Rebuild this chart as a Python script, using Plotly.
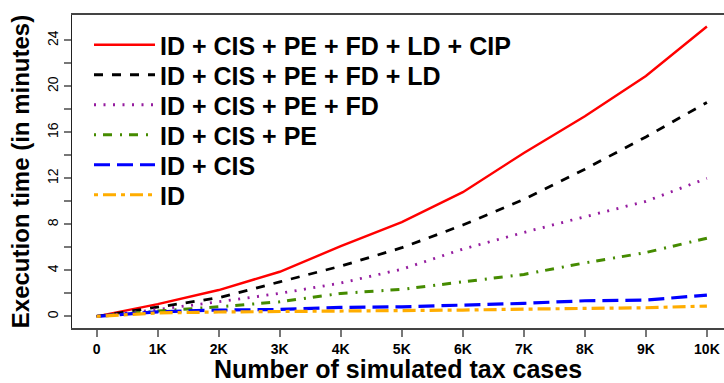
import plotly.graph_objects as go

x_cases = [0, 1000, 2000, 3000, 4000, 5000, 6000, 7000, 8000, 9000, 10000]
x_tick_labels = ["0", "1K", "2K", "3K", "4K", "5K", "6K", "7K", "8K", "9K", "10K"]
y_tick_vals = [0, 2, 4, 6, 8, 10, 12, 14, 16, 18, 20, 22, 24]
y_tick_text = ["0", "", "4", "", "8", "", "12", "", "16", "", "20", "", "24"]

names = [
    "ID + CIS + PE + FD + LD + CIP",
    "ID + CIS + PE + FD + LD",
    "ID + CIS + PE + FD",
    "ID + CIS + PE",
    "ID + CIS",
    "ID",
]
t_cip = [0, 1.07, 2.29, 3.88, 6.1, 8.2, 10.8, 14.2, 17.4, 20.9, 25.2]
t_ld = [0, 0.84, 1.62, 3.0, 4.37, 5.97, 7.94, 10.17, 12.8, 15.6, 18.6]
t_fd = [0, 0.6, 1.27, 2.0, 2.9, 4.1, 5.85, 7.3, 8.66, 10.0, 12.0]
t_pe = [0, 0.46, 0.83, 1.27, 2.0, 2.35, 3.0, 3.65, 4.65, 5.55, 6.8]
t_cis = [0, 0.4, 0.55, 0.6, 0.78, 0.83, 0.98, 1.13, 1.36, 1.42, 1.85]
t_id = [0, 0.3, 0.38, 0.42, 0.46, 0.48, 0.55, 0.63, 0.7, 0.75, 0.9]

series = [t_cip, t_ld, t_fd, t_pe, t_cis, t_id]
colors = ["#ff0000", "#000000", "#951c9f", "#458b00", "#0000ff", "#ffad00"]
dashes = ["solid", "9px,9px", "2px,7.5px", "2px,7px,9px,8px", "16px,7px", "4px,5px,13px,5px"]
widths = [2.4, 2.8, 2.8, 3, 3.2, 3.2]

W, H = 724, 383
M_L, M_R, M_T, M_B = 72, 0, 15, 55
plot_h = H - M_T - M_B
plot_w = W - M_L - M_R

legend_ids = ["legend", "legend2", "legend3", "legend4", "legend5", "legend6"]
row_px = [45, 75, 105, 135, 165, 195]

fig = go.Figure()
for nm, ys, c, d, w, lg in zip(names, series, colors, dashes, widths, legend_ids):
    fig.add_trace(go.Scatter(x=x_cases, y=ys, name=nm, mode="lines", legend=lg,
                             line=dict(color=c, dash=d, width=w)))

legend_font = dict(family="Liberation Sans, Arial", size=25, color="black", weight="bold")
legend_layout = {}
for lg, rp in zip(legend_ids, row_px):
    legend_layout[lg] = dict(
        x=(89 - M_L) / plot_w, y=(H - M_B - rp) / plot_h,
        xanchor="left", yanchor="middle",
        bgcolor="rgba(0,0,0,0)", itemwidth=61, font=legend_font,
    )

fig.update_layout(
    width=W, height=H,
    margin=dict(l=M_L, r=M_R, t=M_T, b=M_B),
    plot_bgcolor="white", paper_bgcolor="white",
    showlegend=True,
    **legend_layout,
    xaxis=dict(range=[-405, 10280], tickvals=x_cases, ticktext=x_tick_labels,
               showgrid=False, zeroline=False, showline=True, linecolor="#444",
               linewidth=1.5, mirror=True, ticks="outside", ticklen=7, tickcolor="#777",
               tickwidth=1.5,
               tickfont=dict(family="Liberation Sans, Arial", size=14, color="black", weight="bold"),
               title=dict(text="Number of simulated tax cases", standoff=2,
                          font=dict(family="Liberation Sans, Arial", size=25, color="black", weight="bold"))),
    yaxis=dict(range=[-1.01, 26.2], tickvals=y_tick_vals, ticktext=y_tick_text,
               showgrid=False, zeroline=False, showline=True, linecolor="#222",
               linewidth=1.2, mirror=False, ticks="outside", ticklen=7, tickcolor="#777",
               tickwidth=1.5, tickangle=-90,
               tickfont=dict(family="Liberation Sans, Arial", size=14, color="black"),
               title=dict(text="Execution time (in minutes)", standoff=8,
                          font=dict(family="Liberation Sans, Arial", size=24, color="black", weight="bold"))),
)

fig.write_html("out.html")
